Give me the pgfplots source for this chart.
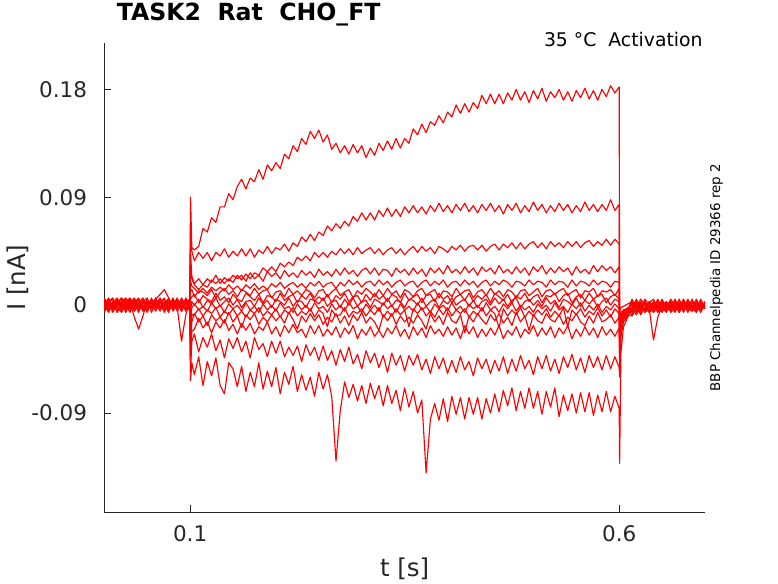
\documentclass[border=0pt]{standalone}
\usepackage{fontspec}
\setmainfont{DejaVu Sans}
\usepackage{pgfplots}
\usepackage{pgfplotstable}
\pgfplotsset{compat=1.18}
\pgfplotstableread{
t p1 p2 p3 p4 p5 p6 p7 p8 p9 p10 n0 n1 n2 n3
0.000 0.003 -0.002 0.005 0 -0.005 0.002 0.006 -0.003 0 0.003 -0.006 0.002 0.005 -0.002
0.005 -0.005 0.003 0 0.006 0.002 -0.003 -0.002 0.005 -0.006 0 0.003 -0.005 0.002 0.003
0.010 0.002 0.006 -0.003 -0.002 0.005 0 0.003 -0.005 0.002 -0.006 -0.002 0.003 -0.003 0.005
0.015 0.006 -0.005 0.002 0.003 -0.002 0.005 -0.006 0 0.003 0.002 0.005 -0.002 0 -0.006
0.020 -0.002 0 0.006 -0.005 0.003 -0.003 0.002 0.006 -0.002 0.005 0 -0.006 0.003 0.002
0.025 0.005 -0.003 -0.002 0.002 0.006 0.003 -0.005 0.002 0.005 -0.003 -0.002 0 -0.006 0.003
0.030 0 0.005 0.003 -0.006 -0.002 0.006 0 -0.003 0.003 0.002 -0.005 0.005 0.002 -0.003
0.035 -0.003 0.002 -0.005 0.003 0 -0.002 0.005 0.003 -0.005 0.006 0.002 -0.003 -0.010 0
0.040 0.003 -0.006 0.002 0.005 -0.003 0.002 -0.002 -0.005 0 -0.002 0.006 0.003 -0.020 0.005
0.045 -0.002 0.003 0.006 -0.002 0.005 -0.005 0.003 0.002 -0.003 0 -0.003 -0.002 -0.009 -0.005
0.050 0.005 0 -0.003 0.002 -0.006 0.003 0.006 -0.002 0.005 -0.005 0.002 -0.005 0.003 0.002
0.055 -0.006 0.005 0.002 -0.003 0.003 0 -0.003 0.005 -0.002 0.003 -0.002 0.006 -0.002 -0.003
0.060 0.002 -0.002 0.005 0.006 -0.002 -0.005 0.002 0 0.006 -0.003 0.003 -0.003 0.005 0
0.065 0.003 0.002 0.009 -0.002 0.005 0.003 -0.005 0.003 -0.003 0.002 0 0.002 -0.003 0.006
0.070 -0.003 0.006 0.013 0.003 0 -0.002 0.003 -0.006 0.002 0.005 -0.005 0 0.002 -0.002
0.075 0 -0.003 0.006 -0.005 0.006 0.005 -0.002 0.002 -0.005 -0.002 0.003 -0.006 0.005 0.003
0.080 0.005 0.003 -0.002 0.002 -0.003 0 0.006 -0.003 0.003 0 -0.002 0.005 -0.005 -0.003
0.085 -0.002 -0.005 0.003 0 0.002 0.006 -0.003 0.005 -0.002 0.003 0.005 -0.002 0 0.002
0.090 0.002 0 -0.005 0.005 -0.002 -0.003 0.002 -0.002 0.006 -0.005 -0.003 -0.030 0.003 -0.002
0.095 -0.005 0.003 0.002 -0.003 0.005 0.002 -0.002 0.003 0 0.002 0.006 -0.008 -0.002 0.005
0.0995 0.003 -0.002 0 0.003 -0.003 0.005 0.002 -0.005 0.003 -0.002 0 0.003 -0.003 0.002
0.1005 0.090 0.062 0.045 0.030 0.020 0.012 0.005 -0.005 -0.015 -0.025 -0.035 -0.045 -0.055 -0.063
0.102 0.048 0.045 0.022 0.024 0.016 0.013 0.007 0.003 -0.002 -0.008 -0.014 -0.022 -0.030 -0.048
0.105 0.046 0.037 0.017 0.018 0.014 0.007 0.009 0 0.001 -0.008 -0.007 -0.020 -0.024 -0.058
0.110 0.049 0.044 0.013 0.022 0.010 0.012 0.002 0.005 -0.004 -0.003 -0.014 -0.011 -0.039 -0.043
0.115 0.064 0.039 0.017 0.017 0.014 0.011 0.008 -0.002 -0.001 -0.009 -0.009 -0.019 -0.027 -0.067
0.120 0.061 0.044 0.015 0.022 0.010 0.008 0.005 0.004 -0.005 -0.004 -0.017 -0.014 -0.035 -0.047
0.125 0.073 0.037 0.021 0.019 0.015 0.013 0.003 0.001 0.002 -0.007 -0.008 -0.023 -0.024 -0.059
0.130 0.069 0.044 0.018 0.025 0.012 0.006 0.010 0.006 -0.003 -0.002 -0.013 -0.014 -0.038 -0.044
0.135 0.082 0.041 0.022 0.018 0.015 0.011 0.004 -0.001 0 -0.010 -0.010 -0.019 -0.029 -0.067
0.140 0.082 0.047 0.018 0.023 0.012 0.014 0.007 0.003 -0.006 -0.005 -0.015 -0.012 -0.044 -0.074
0.145 0.093 0.040 0.022 0.020 0.017 0.009 0.002 0.006 0.001 -0.008 -0.006 -0.021 -0.028 -0.048
0.150 0.088 0.045 0.019 0.025 0.013 0.012 0.009 0 -0.003 -0.003 -0.014 -0.016 -0.036 -0.053
0.155 0.099 0.041 0.025 0.022 0.016 0.007 0.005 0.005 0 -0.009 -0.009 -0.024 -0.027 -0.068
0.160 0.105 0.047 0.021 0.025 0.012 0.013 0.003 -0.002 -0.005 -0.005 -0.019 -0.015 -0.039 -0.051
0.165 0.097 0.041 0.026 0.020 0.017 0.011 0.010 0.003 0.002 -0.010 -0.008 -0.021 -0.030 -0.072
0.170 0.106 0.047 0.022 0.027 0.014 0.008 0.007 0.004 -0.004 -0.004 -0.012 -0.015 -0.044 -0.056
0.175 0.103 0.040 0.027 0.022 0.018 0.014 0.004 -0.001 -0.001 -0.007 -0.007 -0.024 -0.027 -0.068
0.180 0.113 0.046 0.025 0.025 0.013 0.009 0.009 0.006 -0.006 -0.002 -0.016 -0.018 -0.037 -0.048
0.185 0.105 0.043 0.031 0.020 0.016 0.012 0.002 0.001 0.001 -0.009 -0.010 -0.021 -0.032 -0.070
0.190 0.117 0.049 0.028 0.028 0.013 0.013 0.008 0.004 -0.004 -0.005 -0.014 -0.014 -0.043 -0.055
0.195 0.112 0.043 0.032 0.024 0.018 0.006 0.007 -0.002 0 -0.008 -0.008 -0.024 -0.030 -0.068
0.200 0.119 0.048 0.028 0.027 0.015 0.011 0.003 0.005 -0.005 -0.003 -0.013 -0.018 -0.040 -0.052
0.205 0.114 0.046 0.035 0.022 0.019 0.012 0.010 0.003 0.002 -0.010 -0.009 -0.026 -0.030 -0.074
0.210 0.126 0.051 0.032 0.029 0.014 0.007 0.004 0 -0.003 -0.004 -0.015 -0.017 -0.043 -0.056
0.215 0.122 0.045 0.036 0.024 0.017 0.014 0.007 0.006 -0.001 -0.007 -0.006 -0.023 -0.035 -0.066
0.220 0.133 0.052 0.033 0.027 0.019 0.009 0.009 -0.001 -0.006 -0.002 -0.012 -0.016 -0.042 -0.051
0.225 0.128 0.049 0.040 0.023 0.015 0.012 0.002 0.004 0.001 -0.009 -0.020 -0.023 -0.034 -0.072
0.230 0.139 0.057 0.037 0.029 0.018 0.008 0.008 0.003 -0.004 -0.005 -0.009 -0.020 -0.047 -0.058
0.235 0.134 0.053 0.041 0.025 0.014 0.013 0.005 -0.002 0 -0.008 -0.014 -0.027 -0.033 -0.071
0.240 0.145 0.059 0.037 0.028 0.019 0.011 0.010 0.005 -0.005 -0.003 -0.007 -0.017 -0.042 -0.060
0.245 0.139 0.054 0.044 0.023 0.016 0.006 0.003 0.004 0.002 -0.010 -0.013 -0.024 -0.035 -0.076
0.250 0.146 0.061 0.040 0.030 0.020 0.012 0.007 0.001 -0.003 -0.004 -0.008 -0.017 -0.046 -0.056
0.255 0.136 0.058 0.044 0.025 0.015 0.013 0.004 0.006 -0.001 -0.007 -0.016 -0.026 -0.034 -0.070
0.260 0.142 0.066 0.040 0.028 0.018 0.007 0.009 -0.001 -0.006 -0.018 -0.010 -0.020 -0.046 -0.058
0.265 0.130 0.062 0.045 0.024 0.019 0.011 0.002 0.003 0.001 -0.004 -0.014 -0.025 -0.038 -0.076
0.270 0.135 0.068 0.042 0.030 0.014 0.014 0.008 0.004 -0.004 -0.009 -0.007 -0.018 -0.050 -0.130
0.275 0.127 0.064 0.047 0.025 0.019 0.008 0.005 -0.002 0 -0.008 -0.015 -0.027 -0.037 -0.088
0.280 0.133 0.070 0.043 0.031 0.016 0.011 0.010 0.005 -0.005 -0.002 -0.009 -0.019 -0.047 -0.064
0.285 0.126 0.066 0.047 0.026 0.021 0.013 0.003 0 0.002 -0.010 -0.017 -0.024 -0.035 -0.077
0.290 0.134 0.074 0.042 0.029 0.017 0.006 0.007 0.006 -0.003 -0.005 -0.008 -0.017 -0.049 -0.066
0.295 0.127 0.070 0.048 0.024 0.020 0.012 0.008 -0.001 -0.001 -0.007 -0.013 -0.028 -0.041 -0.080
0.300 0.133 0.077 0.043 0.029 0.015 0.009 0.002 0.003 -0.006 -0.003 -0.006 -0.020 -0.053 -0.067
0.305 0.123 0.071 0.046 0.031 0.019 0.014 0.009 0.004 0.001 -0.009 -0.015 -0.025 -0.038 -0.082
0.310 0.131 0.077 0.048 0.026 0.020 0.011 0.004 -0.002 -0.004 -0.004 -0.010 -0.018 -0.048 -0.065
0.315 0.125 0.071 0.043 0.031 0.016 0.007 0.010 0.005 0 -0.008 -0.014 -0.026 -0.040 -0.078
0.320 0.135 0.079 0.047 0.025 0.021 0.013 0.005 0.003 -0.005 -0.002 -0.021 -0.021 -0.052 -0.067
0.325 0.129 0.074 0.042 0.030 0.017 0.008 0.008 0 0.002 -0.010 -0.008 -0.027 -0.042 -0.084
0.330 0.137 0.081 0.046 0.029 0.020 0.014 0.003 0.006 -0.003 -0.005 -0.013 -0.019 -0.056 -0.067
0.335 0.130 0.074 0.048 0.024 0.015 0.009 0.009 -0.001 0 -0.009 -0.007 -0.024 -0.040 -0.082
0.340 0.139 0.080 0.043 0.031 0.019 0.012 0.007 0.004 -0.006 -0.003 -0.016 -0.017 -0.050 -0.071
0.345 0.131 0.074 0.047 0.027 0.021 0.006 0.002 0.003 0.001 -0.008 -0.009 -0.026 -0.042 -0.088
0.350 0.139 0.082 0.042 0.030 0.016 0.013 0.010 -0.002 -0.004 -0.004 -0.014 -0.020 -0.055 -0.069
0.355 0.135 0.077 0.046 0.025 0.019 0.011 0.004 0.005 -0.001 -0.018 -0.010 -0.028 -0.042 -0.085
0.360 0.147 0.083 0.049 0.031 0.020 0.007 0.007 0.004 -0.005 -0.003 -0.015 -0.018 -0.050 -0.072
0.365 0.142 0.077 0.044 0.026 0.015 0.012 0.009 0 0.002 -0.007 -0.008 -0.025 -0.041 -0.090
0.370 0.151 0.082 0.049 0.030 0.019 0.014 0.002 0.006 -0.004 -0.002 -0.013 -0.019 -0.054 -0.079
0.375 0.144 0.076 0.045 0.024 0.021 0.008 0.008 -0.001 -0.001 -0.009 -0.020 -0.027 -0.045 -0.140
0.380 0.153 0.083 0.048 0.031 0.016 0.011 0.009 0.003 -0.006 -0.005 -0.007 -0.017 -0.057 -0.095
0.385 0.150 0.078 0.043 0.027 0.020 0.013 0.003 0.005 0.001 -0.010 -0.014 -0.024 -0.043 -0.082
0.390 0.158 0.085 0.049 0.031 0.017 0.006 0.010 -0.002 -0.003 -0.003 -0.009 -0.020 -0.053 -0.096
0.395 0.152 0.078 0.047 0.026 0.021 0.012 0.005 0.004 0 -0.008 -0.016 -0.026 -0.044 -0.078
0.400 0.161 0.083 0.044 0.033 0.015 0.011 0.008 0.001 -0.005 -0.002 -0.006 -0.018 -0.057 -0.097
0.405 0.157 0.077 0.049 0.027 0.019 0.007 0.002 0.006 0.002 -0.009 -0.013 -0.025 -0.046 -0.076
0.410 0.167 0.084 0.046 0.030 0.020 0.014 0.007 0 -0.004 -0.004 -0.015 -0.019 -0.056 -0.091
0.415 0.160 0.079 0.050 0.026 0.016 0.009 0.009 0.003 -0.001 -0.007 -0.008 -0.028 -0.043 -0.077
0.420 0.168 0.085 0.045 0.032 0.021 0.012 0.004 0.005 -0.006 -0.003 -0.023 -0.017 -0.054 -0.095
0.425 0.161 0.078 0.049 0.027 0.017 0.013 0.010 -0.001 0.001 -0.010 -0.009 -0.024 -0.047 -0.077
0.430 0.169 0.083 0.050 0.031 0.020 0.006 0.003 0.004 -0.003 -0.005 -0.014 -0.018 -0.059 -0.091
0.435 0.164 0.077 0.046 0.025 0.015 0.011 0.008 -0.002 0 -0.008 -0.007 -0.027 -0.044 -0.077
0.440 0.175 0.084 0.050 0.032 0.019 0.013 0.005 0.003 -0.005 -0.002 -0.012 -0.020 -0.053 -0.095
0.445 0.168 0.079 0.045 0.028 0.021 0.008 0.009 0.005 0.002 -0.009 -0.016 -0.026 -0.045 -0.078
0.450 0.176 0.085 0.049 0.031 0.016 0.014 0.002 0 -0.004 -0.004 -0.008 -0.019 -0.057 -0.090
0.455 0.168 0.078 0.051 0.026 0.020 0.009 0.010 0.006 -0.001 -0.007 -0.013 -0.025 -0.046 -0.074
0.460 0.176 0.083 0.046 0.033 0.017 0.012 0.007 0.001 -0.006 -0.019 -0.007 -0.017 -0.055 -0.089
0.465 0.168 0.076 0.051 0.027 0.021 0.007 0.004 0.005 0.001 -0.003 -0.015 -0.028 -0.043 -0.071
0.470 0.177 0.084 0.048 0.030 0.019 0.013 0.009 -0.001 -0.003 -0.009 -0.010 -0.021 -0.057 -0.084
0.475 0.171 0.079 0.052 0.026 0.015 0.011 0.002 0.004 0.002 -0.004 -0.017 -0.025 -0.045 -0.069
0.480 0.180 0.085 0.047 0.032 0.020 0.006 0.008 0.006 -0.005 -0.008 -0.006 -0.018 -0.055 -0.088
0.485 0.171 0.077 0.052 0.027 0.019 0.012 0.005 -0.002 0 -0.002 -0.014 -0.027 -0.042 -0.072
0.490 0.178 0.083 0.047 0.031 0.016 0.013 0.010 0.003 -0.004 -0.010 -0.009 -0.020 -0.053 -0.086
0.495 0.169 0.078 0.051 0.025 0.021 0.008 0.003 0.005 -0.001 -0.005 -0.021 -0.024 -0.046 -0.069
0.500 0.179 0.086 0.053 0.032 0.017 0.011 0.007 0 -0.006 -0.009 -0.008 -0.017 -0.058 -0.086
0.505 0.172 0.079 0.048 0.028 0.020 0.014 0.009 0.004 0.001 -0.004 -0.013 -0.026 -0.043 -0.072
0.510 0.181 0.084 0.052 0.033 0.019 0.007 0.002 -0.001 -0.003 -0.008 -0.015 -0.019 -0.053 -0.091
0.515 0.170 0.077 0.047 0.026 0.015 0.012 0.008 0.006 0 -0.003 -0.007 -0.025 -0.042 -0.072
0.520 0.178 0.083 0.053 0.031 0.021 0.013 0.007 0.001 -0.005 -0.010 -0.012 -0.018 -0.055 -0.085
0.525 0.173 0.078 0.049 0.027 0.017 0.009 0.010 0.004 0.002 -0.005 -0.014 -0.027 -0.045 -0.069
0.530 0.180 0.085 0.052 0.032 0.020 0.012 0.003 -0.002 -0.004 -0.009 -0.008 -0.019 -0.057 -0.093
0.535 0.171 0.079 0.048 0.028 0.019 0.014 0.008 0.005 -0.001 -0.002 -0.016 -0.024 -0.043 -0.075
0.540 0.178 0.084 0.053 0.031 0.015 0.008 0.010 0.003 -0.006 -0.018 -0.010 -0.017 -0.052 -0.088
0.545 0.170 0.077 0.049 0.025 0.021 0.011 0.002 0 0.001 -0.004 -0.013 -0.028 -0.041 -0.074
0.550 0.179 0.083 0.053 0.032 0.016 0.013 0.007 0.006 -0.003 -0.008 -0.007 -0.020 -0.054 -0.090
0.555 0.173 0.078 0.048 0.027 0.020 0.006 0.009 -0.001 0.002 -0.003 -0.014 -0.026 -0.044 -0.073
0.560 0.181 0.086 0.052 0.030 0.019 0.012 0.004 0.004 -0.005 -0.010 -0.017 -0.018 -0.056 -0.089
0.565 0.172 0.079 0.054 0.026 0.016 0.011 0.010 0.001 0 -0.005 -0.009 -0.025 -0.042 -0.073
0.570 0.179 0.084 0.049 0.033 0.021 0.014 0.005 0.005 -0.004 -0.008 -0.015 -0.019 -0.052 -0.092
0.575 0.171 0.078 0.053 0.028 0.017 0.007 0.008 -0.002 0.001 -0.002 -0.006 -0.027 -0.043 -0.075
0.580 0.180 0.084 0.050 0.033 0.020 0.012 0.009 0.003 -0.006 -0.009 -0.014 -0.018 -0.054 -0.089
0.585 0.174 0.079 0.055 0.029 0.019 0.011 0.002 0.006 -0.001 -0.004 -0.012 -0.025 -0.042 -0.072
0.590 0.183 0.088 0.050 0.032 0.015 0.013 0.007 0 -0.004 -0.010 -0.008 -0.020 -0.053 -0.089
0.595 0.177 0.079 0.055 0.027 0.020 0.008 0.009 0.005 0.001 -0.003 -0.015 -0.026 -0.043 -0.076
0.600 0.182 0.084 0.051 0.032 0.019 0.014 0.005 0.003 -0.003 -0.007 -0.010 -0.019 -0.052 -0.086
0.6005 -0.005 -0.010 -0.020 -0.015 -0.025 -0.030 -0.018 -0.035 -0.040 -0.028 -0.045 -0.050 -0.060 -0.132
0.602 -0.002 -0.006 -0.010 -0.008 -0.012 -0.014 -0.009 -0.016 -0.018 -0.014 -0.020 -0.022 -0.026 -0.040
0.605 -0.001 -0.004 -0.006 -0.005 -0.007 -0.008 -0.005 -0.009 -0.010 -0.008 -0.011 -0.012 -0.014 -0.018
0.610 0.001 -0.003 -0.004 -0.002 -0.005 -0.003 -0.004 -0.006 -0.005 -0.007 -0.006 -0.008 -0.009 -0.010
0.615 0.003 -0.005 0.002 -0.003 -0.006 0 0.005 -0.002 -0.008 0.003 -0.005 -0.009 -0.003 -0.002
0.620 -0.002 0.002 -0.006 0.003 0 -0.005 -0.003 0.005 0.002 -0.006 0 -0.003 -0.008 0.003
0.625 0.005 -0.003 0 -0.005 0.003 0.002 -0.006 -0.002 -0.003 0 -0.008 0.002 -0.002 -0.005
0.630 0 0.003 -0.005 0.002 -0.003 -0.006 0.002 0 0.005 -0.005 -0.002 -0.006 0.003 -0.003
0.635 -0.005 -0.002 0.003 -0.006 0.002 0.003 -0.002 -0.005 0 0.002 -0.006 -0.003 -0.005 0.002
0.640 0.002 -0.006 -0.002 0 -0.005 -0.002 0.003 -0.003 -0.006 0.005 -0.003 -0.029 0 -0.002
0.645 -0.003 0 0.005 -0.003 -0.002 -0.005 0 0.003 -0.002 -0.003 0.002 -0.010 -0.006 -0.005
0.650 0.003 -0.005 -0.003 0.002 0.005 0 -0.005 -0.002 0.003 -0.006 -0.003 0 -0.002 0.003
0.655 -0.002 0.002 0 -0.005 -0.003 0.003 0.002 -0.006 -0.005 0 -0.002 -0.005 0.003 -0.003
0.660 0.005 -0.003 -0.005 0.003 0 -0.002 -0.003 0.002 0 -0.005 0.003 -0.002 -0.006 0
0.665 0 0.003 0.002 -0.002 -0.006 -0.003 0.005 -0.003 0.002 0.003 -0.005 0 -0.003 -0.005
0.670 -0.003 -0.002 -0.006 0.005 0.002 0.002 -0.002 0 -0.005 -0.002 0 -0.006 0.002 0.003
0.675 0.002 0.005 0 -0.003 -0.005 -0.006 0.003 -0.005 0.003 0.002 -0.003 0.002 -0.005 -0.002
0.680 -0.005 -0.003 0.003 0 0.003 0.002 -0.006 0.002 -0.002 -0.003 0.005 -0.003 0 -0.003
0.685 0.003 0 -0.002 -0.005 -0.002 -0.003 0.002 -0.002 0.005 0 -0.002 -0.005 -0.003 0.002
0.690 0 -0.005 0.005 0.002 -0.003 0.003 -0.002 0.003 -0.003 -0.005 0.002 0 -0.006 -0.002
0.695 -0.003 0.002 -0.003 -0.002 0.005 -0.002 0 -0.005 0.002 0.003 -0.006 -0.003 0.002 -0.005
0.700 0.002 -0.002 0 0.003 -0.002 0 -0.003 0.002 -0.003 -0.002 0.003 -0.002 -0.003 0
}\traces
\begin{document}
\begin{tikzpicture}
\begin{axis}[
  at={(0pt,0pt)}, anchor=south west,
  scale only axis, width=600.7pt, height=468.7pt,
  xmin=0, xmax=0.7, ymin=-0.1725, ymax=0.2184,
  axis lines=left,
  axis line style={-, black!85, line width=0.6pt},
  tick align=inside, major tick length=6.5pt,
  tick style={black!85, line width=0.6pt},
  xtick={0.1,0.6}, xticklabels={0.1,0.6},
  ytick={-0.09,0,0.09,0.18}, yticklabels={-0.09,0,0.09,0.18},
  ticklabel style={font=\fontsize{21.5}{24}\selectfont, text=black!85, inner sep=0pt},
  xticklabel style={anchor=north, yshift=-13.5pt},
  yticklabel style={anchor=east, xshift=-17pt},
  xlabel={t [s]}, ylabel={I [nA]},
  label style={font=\fontsize{24.5}{28}\selectfont, text=black!85, inner sep=0pt},
  xlabel style={at={(axis description cs:0.5,-0.1383)}, anchor=base},
  ylabel style={at={(axis description cs:-0.1318,0.5)}, anchor=base},
  title={TASK2\ \ Rat\ \ CHO\_FT},
  title style={at={(axis description cs:0.0206,1.0354)}, anchor=base west, inner sep=0pt, font=\fontsize{23.6}{28}\selectfont\bfseries},
  clip mode=individual,
]
\pgfplotsinvokeforeach{p1,p2,p3,p4,p5,p6,p7,p8,p9,p10,n0,n1,n2,n3}{
  \addplot[red, line width=1.15pt, line join=round] table[x=t, y=#1] {\traces};
}
\node[anchor=base east, inner sep=0pt, font=\fontsize{18.8}{22}\selectfont] at (axis description cs:0.9962,0.9927) {35 °C\ \ Activation};
\node[rotate=90, anchor=base, inner sep=0pt, font=\fontsize{13.4}{16}\selectfont] at (axis description cs:1.0253,0.5) {BBP Channelpedia ID 29366 rep 2};
\end{axis}
\pgfresetboundingbox
\path[use as bounding box] (-104.3pt,-71pt) rectangle (673.7pt,512pt);
\end{tikzpicture}
\end{document}
